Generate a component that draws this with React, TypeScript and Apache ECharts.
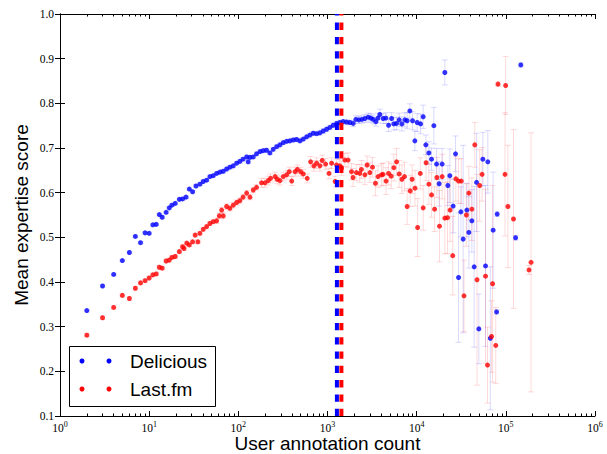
import React, { useEffect, useRef } from "react";
import * as echarts from "echarts";

// ---- Data ----
const deliciousX = [
  2, 3, 4, 5, 6, 7, 8, 9, 10, 11,
  12, 13, 14, 15.5, 16.8, 18, 19.6, 21.8, 23.7, 25.9,
  28.2, 30.7, 33.5, 37.1, 40.4, 44.1, 48.0, 52.3, 57.1, 62.2,
  67.7, 73.9, 80.5, 87.7, 95.7, 104, 113, 124, 129, 135,
  147, 160, 175, 190, 207, 226, 246, 269, 293, 319,
  348, 379, 413, 450, 491, 535, 583, 635, 692, 755,
  822, 896, 977, 1064, 1159, 1265, 1377, 1500, 1637, 1783,
  1942, 2081, 2249, 2430, 2626, 2860, 3066, 3253, 3488, 3673,
  3866, 4213, 4516, 4843, 5233, 5550, 5950, 6367, 6827, 7379,
  7823, 8386, 8990, 9544, 10130, 11060, 11830, 12680, 13700, 14690,
  15590, 16710, 17870, 19310, 20700, 22370, 23560, 25650, 27290, 29490,
  31320, 33210, 36540, 38480, 41580, 44150, 46970, 49800, 55240, 59190,
  62810, 66990, 72050, 78750, 79970, 128600, 147300,
];
const deliciousY = [
  0.336, 0.391, 0.417, 0.448, 0.466, 0.502, 0.488, 0.510, 0.509, 0.528,
  0.529, 0.551, 0.545, 0.556, 0.566, 0.572, 0.576, 0.585, 0.586, 0.590,
  0.608, 0.602, 0.615, 0.619, 0.625, 0.628, 0.636, 0.638, 0.643, 0.646,
  0.648, 0.653, 0.657, 0.660, 0.666, 0.670, 0.675, 0.680, 0.669, 0.679,
  0.680, 0.687, 0.692, 0.694, 0.695, 0.689, 0.697, 0.703, 0.707, 0.712,
  0.715, 0.716, 0.718, 0.719, 0.716, 0.720, 0.725, 0.729, 0.733, 0.732,
  0.734, 0.738, 0.742, 0.746, 0.751, 0.755, 0.757, 0.759, 0.758, 0.757,
  0.755, 0.764, 0.763, 0.764, 0.766, 0.769, 0.767, 0.764, 0.759, 0.767,
  0.775, 0.766, 0.767, 0.751, 0.766, 0.754, 0.755, 0.763, 0.754, 0.763,
  0.761, 0.783, 0.761, 0.716, 0.757, 0.754, 0.770, 0.707, 0.689, 0.675,
  0.750, 0.664, 0.620, 0.664, 0.869, 0.616, 0.638, 0.570, 0.687, 0.410,
  0.557, 0.496, 0.561, 0.511, 0.537, 0.434, 0.623, 0.295, 0.675, 0.436,
  0.669, 0.274, 0.516, 0.333, 0.552, 0.499, 0.886,
];
const deliciousErr = [
  0.003, 0.003, 0.003, 0.003, 0.003, 0.003, 0.003, 0.003, 0.003, 0.003,
  0.003, 0.003, 0.003, 0.003, 0.003, 0.003, 0.003, 0.003, 0.003, 0.003,
  0.003, 0.003, 0.003, 0.003, 0.003, 0.003, 0.003, 0.003, 0.003, 0.003,
  0.004, 0.004, 0.004, 0.004, 0.004, 0.004, 0.004, 0.004, 0.004, 0.004,
  0.004, 0.004, 0.004, 0.004, 0.004, 0.004, 0.004, 0.004, 0.004, 0.004,
  0.004, 0.004, 0.004, 0.004, 0.004, 0.004, 0.004, 0.004, 0.004, 0.004,
  0.005, 0.005, 0.005, 0.005, 0.005, 0.005, 0.005, 0.005, 0.005, 0.005,
  0.007, 0.008, 0.008, 0.008, 0.009, 0.009, 0.010, 0.010, 0.010, 0.011,
  0.012, 0.011, 0.012, 0.014, 0.013, 0.014, 0.014, 0.015, 0.016, 0.016,
  0.018, 0.016, 0.020, 0.022, 0.020, 0.022, 0.026, 0.022, 0.025, 0.025,
  0.041, 0.035, 0.050, 0.035, 0.028, 0.045, 0.060, 0.060, 0.040, 0.145,
  0.056, 0.210, 0.060, 0.080, 0.070, 0.180, 0.110, 0.078, 0.060, 0.180,
  0.070, 0.160, 0.130, 0.005, 0.005, 0.005, 0.005,
];

const lastfmX = [
  2, 3, 4, 5, 6, 7, 8, 9, 10, 11,
  12, 13, 14, 15.5, 16.8, 18, 19.6, 21.8, 23.7, 24.6,
  26.4, 28.2, 30.7, 32.8, 35.2, 37.1, 40.4, 44.1, 48.0, 52.3,
  57.1, 61.1, 65.0, 67.7, 73.9, 80.5, 87.7, 95.7, 104, 113,
  124, 135, 147, 160, 182, 199, 216, 230, 258, 273,
  293, 319, 348, 373, 397, 433, 460, 500, 535, 592,
  646, 704, 755, 822, 873, 953, 1040, 1112, 1219, 1265,
  1377, 1440, 1566, 1702, 1857, 1935, 2110, 2300, 2400, 2626,
  2785, 2990, 3195, 3450, 3690, 4030, 4200, 4540, 4840, 5180,
  5550, 5950, 6370, 6830, 7310, 7820, 8460, 8900, 9580, 10250,
  10980, 11830, 12750, 13700, 14690, 15890, 16860, 18040, 19310, 20700,
  22170, 23700, 25390, 27520, 29490, 31650, 33960, 36080, 38480, 41580,
  44850, 47540, 50850, 54170, 59190, 62300, 69130, 71010, 77130, 81700,
  97900, 99500, 105500, 121900, 182000, 191900,
];
const lastfmY = [
  0.281, 0.320, 0.343, 0.370, 0.363, 0.386, 0.398, 0.403, 0.409, 0.416,
  0.418, 0.433, 0.431, 0.447, 0.449, 0.455, 0.457, 0.468, 0.479, 0.475,
  0.487, 0.483, 0.490, 0.505, 0.490, 0.509, 0.518, 0.524, 0.531, 0.535,
  0.537, 0.548, 0.561, 0.548, 0.569, 0.565, 0.572, 0.578, 0.582, 0.590,
  0.599, 0.590, 0.606, 0.612, 0.622, 0.622, 0.627, 0.632, 0.636, 0.630,
  0.627, 0.636, 0.640, 0.647, 0.626, 0.647, 0.652, 0.647, 0.642, 0.632,
  0.669, 0.660, 0.666, 0.660, 0.672, 0.664, 0.643, 0.666, 0.625, 0.662,
  0.660, 0.655, 0.673, 0.673, 0.647, 0.634, 0.645, 0.643, 0.652, 0.640,
  0.662, 0.645, 0.657, 0.621, 0.636, 0.640, 0.641, 0.626, 0.643, 0.637,
  0.656, 0.669, 0.642, 0.630, 0.636, 0.569, 0.604, 0.630, 0.610, 0.522,
  0.643, 0.566, 0.667, 0.619, 0.595, 0.563, 0.634, 0.525, 0.636, 0.543,
  0.544, 0.561, 0.459, 0.631, 0.626, 0.626, 0.369, 0.550, 0.599, 0.563,
  0.707, 0.405, 0.616, 0.641, 0.413, 0.214, 0.278, 0.396, 0.258, 0.843,
  0.641, 0.840, 0.569, 0.541, 0.427, 0.444,
];
const lastfmErr = [
  0.004, 0.004, 0.004, 0.004, 0.004, 0.004, 0.004, 0.004, 0.004, 0.004,
  0.004, 0.004, 0.004, 0.004, 0.004, 0.004, 0.004, 0.004, 0.004, 0.004,
  0.004, 0.004, 0.004, 0.004, 0.004, 0.004, 0.004, 0.004, 0.004, 0.004,
  0.006, 0.006, 0.006, 0.006, 0.006, 0.006, 0.006, 0.006, 0.006, 0.006,
  0.006, 0.006, 0.006, 0.006, 0.010, 0.010, 0.010, 0.010, 0.010, 0.010,
  0.010, 0.010, 0.010, 0.010, 0.010, 0.010, 0.010, 0.010, 0.010, 0.010,
  0.012, 0.012, 0.012, 0.012, 0.012, 0.012, 0.012, 0.012, 0.012, 0.012,
  0.015, 0.016, 0.015, 0.016, 0.018, 0.020, 0.018, 0.020, 0.020, 0.022,
  0.020, 0.022, 0.022, 0.028, 0.024, 0.025, 0.025, 0.030, 0.026, 0.028,
  0.030, 0.030, 0.030, 0.032, 0.032, 0.040, 0.035, 0.032, 0.040, 0.065,
  0.035, 0.050, 0.040, 0.045, 0.050, 0.050, 0.045, 0.080, 0.050, 0.080,
  0.080, 0.070, 0.088, 0.050, 0.050, 0.050, 0.080, 0.070, 0.060, 0.070,
  0.050, 0.236, 0.080, 0.060, 0.195, 0.085, 0.080, 0.220, 0.085, 0.005,
  0.138, 0.065, 0.137, 0.200, 0.010, 0.290,
];

const deliciousCutoff = 1275;
const lastfmCutoff = 1432;

const seriesNames = ["Delicious", "Last.fm"];
const xTitle = "User annotation count";
const yTitle = "Mean expertise score";
const xMin = 1;
const xMax = 1000000;
const yMin = 0.1;
const yMax = 1.0;
const yStep = 0.1;

const BLUE = "#0000ff";
const RED = "#ff0000";

// minor tick positions (log10 space) for decoration only
const minorTickLogs: number[] = [];
for (let d = 0; d < 6; d++) {
  for (let m = 2; m <= 9; m++) minorTickLogs.push(d + Math.log10(m));
}

function errorBarSeries(xs: number[], ys: number[], es: number[], color: string) {
  return {
    type: "custom",
    xAxisIndex: 0,
    yAxisIndex: 0,
    z: 1,
    silent: true,
    encode: { x: 0, y: 1 },
    data: xs.map((x, i) => [x, ys[i], es[i]]),
    renderItem: (params: any, api: any) => {
      const x = api.value(0);
      const y = api.value(1);
      const e = api.value(2);
      const hi = Math.min(y + e, yMax);
      const lo = Math.max(y - e, yMin);
      const pTop = api.coord([x, hi]);
      const pBot = api.coord([x, lo]);
      const style = { stroke: color, lineWidth: 1, fill: null };
      const children: any[] = [
        { type: "line", shape: { x1: pTop[0], y1: pTop[1], x2: pBot[0], y2: pBot[1] }, style },
      ];
      if (y + e <= yMax) {
        children.push({ type: "line", shape: { x1: pTop[0] - 3, y1: pTop[1], x2: pTop[0] + 3, y2: pTop[1] }, style });
      }
      if (y - e >= yMin) {
        children.push({ type: "line", shape: { x1: pBot[0] - 3, y1: pBot[1], x2: pBot[0] + 3, y2: pBot[1] }, style });
      }
      return { type: "group", children };
    },
  };
}

const serifFont = "Liberation Serif";
const sansFont = "Liberation Sans";

export default function App() {
  const ref = useRef<HTMLDivElement>(null);

  useEffect(() => {
    document.body.style.margin = "0";
    if (!ref.current) return;
    const chart = echarts.init(ref.current, undefined, { renderer: "svg" });

    const axisLine = { show: true, lineStyle: { color: "#000", width: 1 } };
    const majorTick = { show: true, inside: true, length: 5, lineStyle: { color: "#000", width: 1 } };
    const minorTickStyle = {
      show: true,
      inside: true,
      length: 2.5,
      customValues: minorTickLogs,
      lineStyle: { color: "#000", width: 1 },
    };

    const option: any = {
      animation: false,
      backgroundColor: "#fff",
      grid: {
        left: 60,
        right: 12,
        top: 14,
        bottom: 38,
        containLabel: false,
        outerBoundsMode: "none",
      },
      xAxis: [
        {
          type: "log",
          logBase: 10,
          min: xMin,
          max: xMax,
          splitNumber: 6,
          position: "bottom",
          name: xTitle,
          nameLocation: "middle",
          nameGap: 19,
          nameMoveOverlap: false,
          nameTextStyle: { fontFamily: sansFont, fontSize: 19, lineHeight: 16, color: "#000" },
          axisLine,
          axisTick: majorTick,
          splitLine: { show: false },
          axisLabel: {
            margin: 4,
            formatter: (v: number) => `{b|10}{s|${Math.round(Math.log10(v))}}`,
            rich: {
              b: { fontFamily: serifFont, fontSize: 11.5, color: "#000", lineHeight: 14, verticalAlign: "bottom" },
              s: { fontFamily: serifFont, fontSize: 8, color: "#000", lineHeight: 9, verticalAlign: "top" },
            },
          },
        },
        {
          type: "log",
          logBase: 10,
          min: xMin,
          max: xMax,
          splitNumber: 6,
          position: "top",
          axisLine,
          axisTick: majorTick,
          axisLabel: { show: false },
          splitLine: { show: false },
        },
        {
          type: "value",
          min: 0,
          max: 6,
          position: "bottom",
          axisLine: { show: false },
          axisTick: minorTickStyle,
          axisLabel: { show: false },
          splitLine: { show: false },
        },
        {
          type: "value",
          min: 0,
          max: 6,
          position: "top",
          axisLine: { show: false },
          axisTick: minorTickStyle,
          axisLabel: { show: false },
          splitLine: { show: false },
        },
      ],
      yAxis: [
        {
          type: "value",
          min: yMin,
          max: yMax,
          interval: yStep,
          position: "left",
          name: yTitle,
          nameLocation: "middle",
          nameGap: 29,
          nameMoveOverlap: false,
          nameTextStyle: { fontFamily: sansFont, fontSize: 19, color: "#000" },
          axisLine,
          axisTick: majorTick,
          splitLine: { show: false },
          axisLabel: {
            margin: 6,
            fontFamily: serifFont,
            fontSize: 11.5,
            color: "#000",
            formatter: (v: number) => v.toFixed(1),
          },
        },
        {
          type: "value",
          min: yMin,
          max: yMax,
          interval: yStep,
          position: "right",
          axisLine,
          axisTick: majorTick,
          axisLabel: { show: false },
          splitLine: { show: false },
        },
      ],
      series: [
        errorBarSeries(deliciousX, deliciousY, deliciousErr, "rgba(0,0,255,0.15)"),
        errorBarSeries(lastfmX, lastfmY, lastfmErr, "rgba(255,0,0,0.15)"),
        {
          type: "scatter",
          name: seriesNames[0],
          xAxisIndex: 0,
          yAxisIndex: 0,
          z: 2,
          symbol: "circle",
          symbolSize: 5,
          itemStyle: { color: BLUE },
          data: deliciousX.map((x, i) => [x, deliciousY[i]]),
        },
        {
          type: "scatter",
          name: seriesNames[1],
          xAxisIndex: 0,
          yAxisIndex: 0,
          z: 2,
          symbol: "circle",
          symbolSize: 5,
          itemStyle: { color: RED },
          data: lastfmX.map((x, i) => [x, lastfmY[i]]),
        },
        {
          type: "line",
          xAxisIndex: 0,
          yAxisIndex: 0,
          z: 3,
          symbol: "none",
          silent: true,
          lineStyle: { color: BLUE, width: 4, type: [7.3, 7] },
          data: [[deliciousCutoff, yMin], [deliciousCutoff, yMax]],
        },
        {
          type: "line",
          xAxisIndex: 0,
          yAxisIndex: 0,
          z: 3,
          symbol: "none",
          silent: true,
          lineStyle: { color: RED, width: 4, type: [7.3, 7] },
          data: [[lastfmCutoff, yMin], [lastfmCutoff, yMax]],
        },
      ],
      graphic: [
        {
          type: "group",
          z: 100,
          children: [
            {
              type: "rect",
              shape: { x: 69.5, y: 346.5, width: 146, height: 60 },
              style: { fill: "#fff", stroke: "#000", lineWidth: 1 },
            },
            { type: "circle", shape: { cx: 82, cy: 361, r: 2.5 }, style: { fill: BLUE } },
            { type: "circle", shape: { cx: 109, cy: 361, r: 2.5 }, style: { fill: BLUE } },
            { type: "circle", shape: { cx: 82, cy: 389, r: 2.5 }, style: { fill: RED } },
            { type: "circle", shape: { cx: 109, cy: 389, r: 2.5 }, style: { fill: RED } },
            {
              type: "text",
              x: 130,
              y: 361,
              style: { text: seriesNames[0], fontFamily: sansFont, fontSize: 19, fill: "#000", verticalAlign: "middle" },
            },
            {
              type: "text",
              x: 130,
              y: 389,
              style: { text: seriesNames[1], fontFamily: sansFont, fontSize: 19, fill: "#000", verticalAlign: "middle" },
            },
          ],
        },
      ],
    };

    chart.setOption(option);
    return () => chart.dispose();
  }, []);

  return <div ref={ref} style={{ width: 607, height: 454 }} />;
}
